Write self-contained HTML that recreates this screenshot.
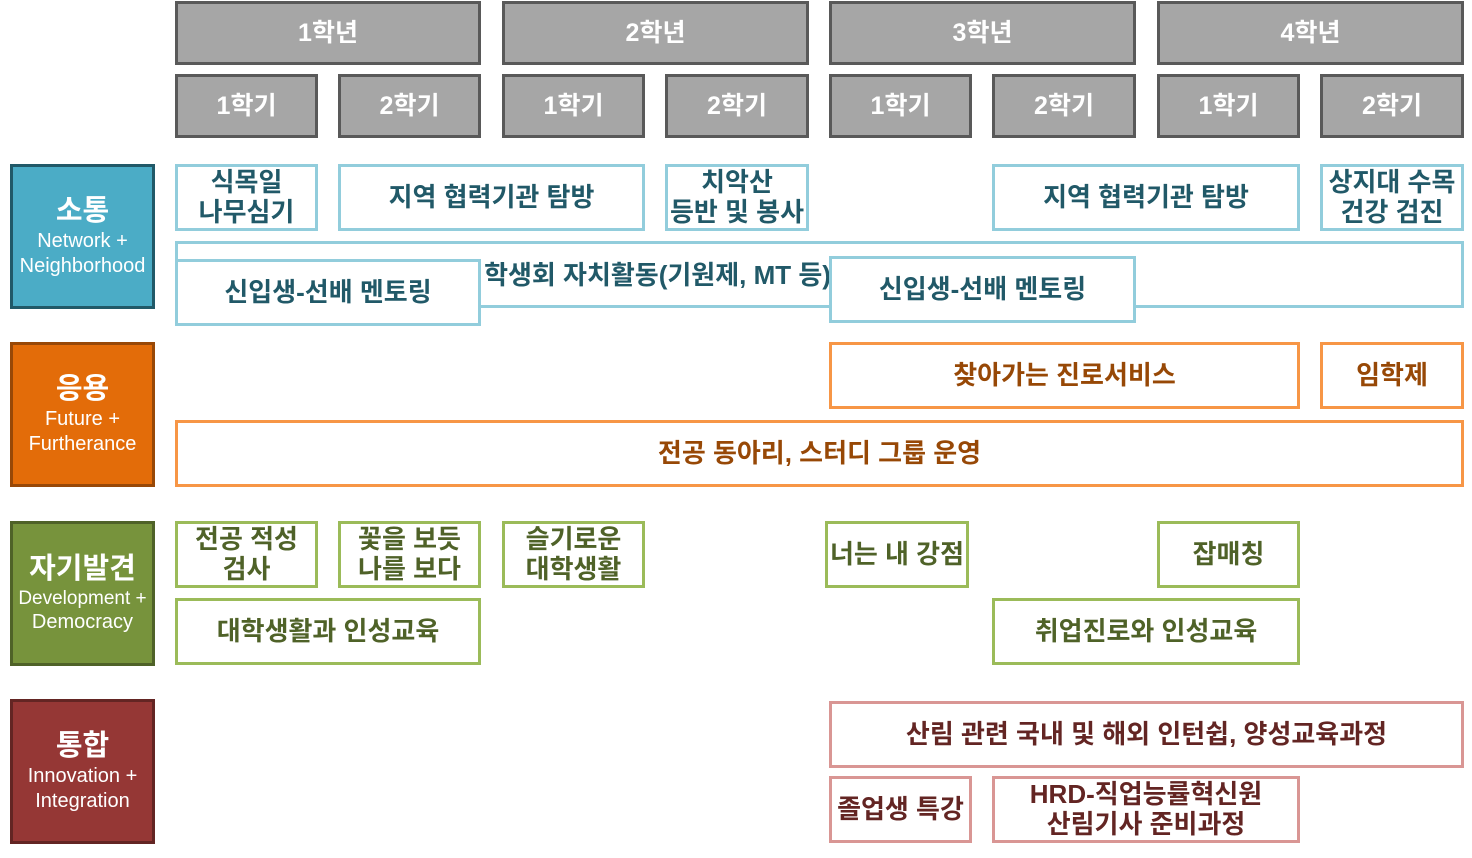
<!DOCTYPE html>
<html><head><meta charset="utf-8"><style>
body{margin:0;width:1472px;height:858px;background:#fff;position:relative;overflow:hidden;font-family:"Liberation Sans","Noto Sans CJK KR","NanumGothic",sans-serif}
.b{position:absolute;box-sizing:border-box;display:flex;align-items:center;justify-content:center;text-align:center;font-weight:bold;line-height:1.15;background:#fff}
.y{background:#a6a6a6;border:3px solid #595959;color:#fff;font-size:25px;font-weight:bold}
.l{color:#fff;flex-direction:column;font-weight:normal;font-size:20px;line-height:1.25}
.l b{font-size:29px;line-height:1.2}
.c1{border:3px solid #92cddc;color:#215968;font-size:26px}
.c2{border:3px solid #f79646;color:#974806;font-size:26px}
.c3{border:3px solid #9bbb59;color:#4f6228;font-size:26px}
.c4{border:3px solid #d99694;color:#632523;font-size:26px}
</style></head><body>
<div class="b y" style="left:175px;top:1px;width:306px;height:64px">1학년</div>
<div class="b y" style="left:502px;top:1px;width:307px;height:64px">2학년</div>
<div class="b y" style="left:829px;top:1px;width:307px;height:64px">3학년</div>
<div class="b y" style="left:1157px;top:1px;width:307px;height:64px">4학년</div>
<div class="b y" style="left:175px;top:74px;width:143px;height:64px">1학기</div>
<div class="b y" style="left:338px;top:74px;width:143px;height:64px">2학기</div>
<div class="b y" style="left:502px;top:74px;width:143px;height:64px">1학기</div>
<div class="b y" style="left:665px;top:74px;width:144px;height:64px">2학기</div>
<div class="b y" style="left:829px;top:74px;width:143px;height:64px">1학기</div>
<div class="b y" style="left:992px;top:74px;width:144px;height:64px">2학기</div>
<div class="b y" style="left:1157px;top:74px;width:143px;height:64px">1학기</div>
<div class="b y" style="left:1320px;top:74px;width:144px;height:64px">2학기</div>

<div class="b l" style="left:10px;top:164px;width:145px;height:145px;background:#4bacc6;border:3px solid #215968"><b>소통</b>Network +<br>Neighborhood</div>
<div class="b l" style="left:10px;top:342px;width:145px;height:145px;background:#e36c09;border:3px solid #984807"><b>응용</b>Future +<br>Furtherance</div>
<div class="b l" style="left:10px;top:521px;width:145px;height:145px;background:#77933c;border:3px solid #4f6228"><b>자기발견</b><span style="font-size:19px">Development +</span>Democracy</div>
<div class="b l" style="left:10px;top:699px;width:145px;height:145px;background:#953735;border:3px solid #632523"><b>통합</b>Innovation +<br>Integration</div>

<div class="b c1" style="left:175px;top:164px;width:143px;height:67px">식목일<br>나무심기</div>
<div class="b c1" style="left:338px;top:164px;width:307px;height:67px">지역 협력기관 탐방</div>
<div class="b c1" style="left:665px;top:164px;width:144px;height:67px">치악산<br>등반 및 봉사</div>
<div class="b c1" style="left:992px;top:164px;width:308px;height:67px">지역 협력기관 탐방</div>
<div class="b c1" style="left:1320px;top:164px;width:144px;height:67px">상지대 수목<br>건강 검진</div>
<div class="b c1" style="left:175px;top:241px;width:1289px;height:67px">&nbsp;</div>
<div style="position:absolute;left:470px;top:255px;width:375px;text-align:center;font-weight:bold;font-size:26px;color:#215968;white-space:nowrap">학생회 자치활동(기원제, MT 등)</div>
<div class="b c1" style="left:175px;top:259px;width:306px;height:67px">신입생-선배 멘토링</div>
<div class="b c1" style="left:829px;top:256px;width:307px;height:67px">신입생-선배 멘토링</div>

<div class="b c2" style="left:829px;top:342px;width:471px;height:67px">찾아가는 진로서비스</div>
<div class="b c2" style="left:1320px;top:342px;width:144px;height:67px">임학제</div>
<div class="b c2" style="left:175px;top:420px;width:1289px;height:67px">전공 동아리, 스터디 그룹 운영</div>

<div class="b c3" style="left:175px;top:521px;width:143px;height:67px">전공 적성<br>검사</div>
<div class="b c3" style="left:338px;top:521px;width:143px;height:67px">꽃을 보듯<br>나를 보다</div>
<div class="b c3" style="left:502px;top:521px;width:143px;height:67px">슬기로운<br>대학생활</div>
<div class="b c3" style="left:825px;top:521px;width:144px;height:67px;white-space:nowrap">너는 내 강점</div>
<div class="b c3" style="left:1157px;top:521px;width:143px;height:67px">잡매칭</div>
<div class="b c3" style="left:175px;top:598px;width:306px;height:67px">대학생활과 인성교육</div>
<div class="b c3" style="left:992px;top:598px;width:308px;height:67px">취업진로와 인성교육</div>

<div class="b c4" style="left:829px;top:701px;width:635px;height:67px">산림 관련 국내 및 해외 인턴쉽, 양성교육과정</div>
<div class="b c4" style="left:829px;top:776px;width:143px;height:67px;white-space:nowrap">졸업생 특강</div>
<div class="b c4" style="left:992px;top:776px;width:308px;height:67px">HRD-직업능률혁신원<br>산림기사 준비과정</div>
</body></html>
